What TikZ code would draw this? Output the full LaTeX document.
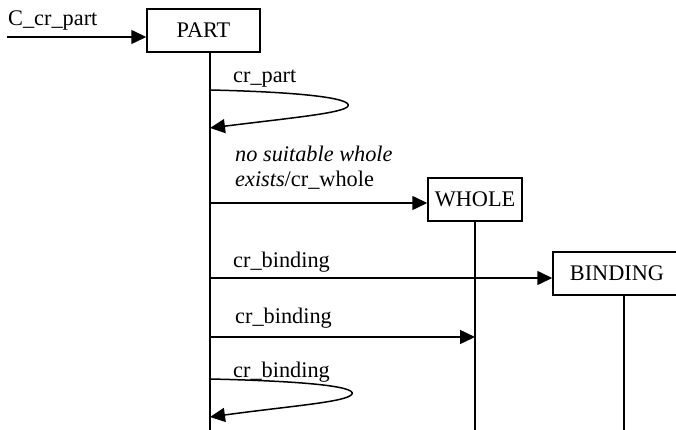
\documentclass[tikz,border=0pt]{standalone}
\usepackage{fontspec}
\setmainfont{Liberation Serif}
\usetikzlibrary{arrows.meta}
\begin{document}
\begin{tikzpicture}[x=1pt,y=-1pt,
  every node/.style={font=\fontsize{22.3}{26}\selectfont, inner sep=0pt},
  objbox/.style={draw, line width=1.5pt, minimum height=43pt},
  lifeline/.style={line width=1.3pt},
  msg/.style={line width=1.5pt, -{Triangle[length=15pt,width=14pt]}},
  lbl/.style={anchor=base west}]
  \useasboundingbox (0,0) rectangle (676,430);

  % objects
  \node[objbox, minimum width=113pt] (part) at (203.5,30.5) {PART};
  \node[objbox, minimum width=94pt] (whole) at (475,199.5) {WHOLE};
  \node[objbox, minimum width=140pt] (binding) at (623,273.5) {};
  \node (bindlabel) at (617,273.5) {BINDING};

  % lifelines
  \coordinate (partTop) at (part.south -| 210,0);
  \coordinate (partEnd) at (210,430);
  \coordinate (wholeTop) at (whole.south);
  \coordinate (wholeEnd) at (475,430);
  \coordinate (bindTop) at (binding.south -| 624,0);
  \coordinate (bindEnd) at (624,430);
  \draw[lifeline] (partTop) -- (partEnd);
  \draw[lifeline] (wholeTop) -- (wholeEnd);
  \draw[lifeline] (bindTop) -- (bindEnd);

  % incoming creation message
  \coordinate (src) at (7,37);
  \node[lbl] (lc) at (8,26) {C\_cr\_part};
  \draw[msg] (src) -- (src -| part.west);

  % self call cr_part
  \node[lbl] (l1) at (233,83) {cr\_part};
  \coordinate (s1a) at (210,90);
  \coordinate (s1b) at (348,106);
  \coordinate (s1c) at (210,128);
  \draw[msg] (s1a) .. controls (300,92) and (352,98) .. (s1b)
                   .. controls (345,113) and (290,118) .. (s1c);

  % create whole
  \node[lbl] (l2a) at (235,162) {\itshape no suitable whole};
  \node[lbl] (l2b) at (235,187) {\itshape exists\upshape/cr\_whole};
  \coordinate (m2) at (210,203);
  \draw[msg] (m2) -- (m2 -| whole.west);

  % create binding
  \node[lbl] (l3) at (233,267) {cr\_binding};
  \coordinate (m3) at (210,278);
  \draw[msg] (m3) -- (m3 -| binding.west);

  % cr_binding to whole
  \node[lbl] (l4) at (235,323) {cr\_binding};
  \coordinate (m4) at (210,337);
  \draw[msg] (m4) -- (m4 -| wholeEnd);

  % self call cr_binding
  \node[lbl] (l5) at (233,377) {cr\_binding};
  \coordinate (s5a) at (210,379);
  \coordinate (s5b) at (352,394);
  \coordinate (s5c) at (210,417);
  \draw[msg] (s5a) .. controls (300,381) and (356,386) .. (s5b)
                   .. controls (348,402) and (290,406) .. (s5c);
\end{tikzpicture}
\end{document}
